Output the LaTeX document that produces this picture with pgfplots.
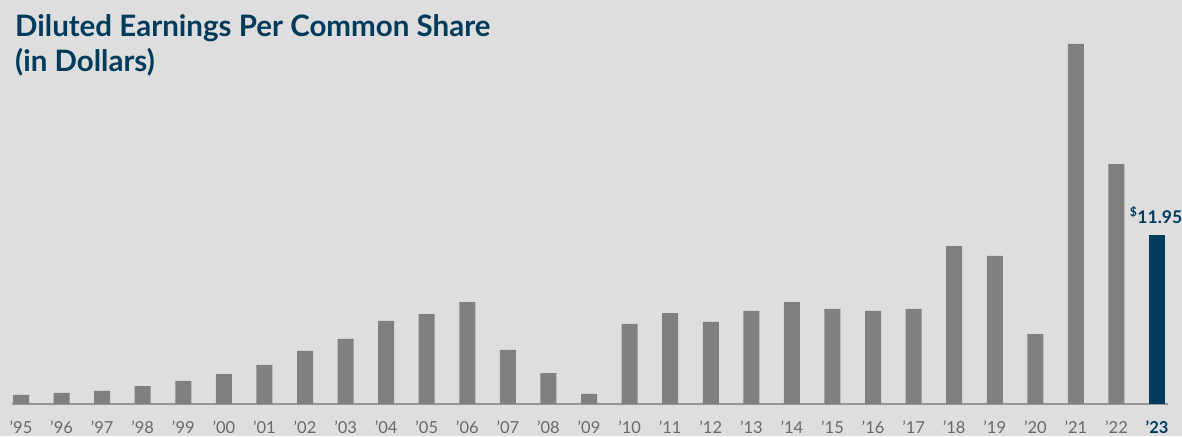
\documentclass[border=0pt]{standalone}
\usepackage{pgfplots}
\usepackage{pgfplotstable}
\pgfplotsset{compat=1.18}
\usepackage{fontspec}
\setmainfont{Lato}
\definecolor{bg}{RGB}{222,222,222}
\definecolor{bargray}{RGB}{128,128,128}
\definecolor{navy}{RGB}{0,59,92}
\definecolor{labgray}{RGB}{105,105,105}
\definecolor{axisgray}{RGB}{150,150,150}

\pgfplotstableread{
x y
0 0.64
1 0.78
2 0.92
3 1.27
4 1.63
5 2.12
6 2.76
7 3.75
8 4.60
9 5.87
10 6.36
11 7.21
12 3.82
13 2.19
14 0.71
15 5.66
16 6.43
17 5.80
18 6.58
19 7.21
20 6.72
21 6.58
22 6.72
23 11.17
24 10.47
25 4.95
26 25.46
27 16.97
}\greydata

\pgfplotstableread{
x y
28 11.95
}\lastdata

\begin{document}
\begin{tikzpicture}[x=1pt,y=1pt]
\fill[bg] (0,0) rectangle (1182,436);
\begin{axis}[
  at={(12pt,32pt)}, anchor=south west,
  scale only axis, width=1156pt, height=404pt,
  xmin=-0.222, xmax=28.27, ymin=0, ymax=28.57,
  axis x line=bottom, axis y line=none,
  axis line style={-, draw=axisgray, line width=1.2pt},
  ytick=\empty,
  xtick={0,...,28},
  major tick length=0pt,
  xticklabels={’95,’96,’97,’98,’99,’00,’01,’02,’03,’04,’05,’06,’07,’08,’09,’10,’11,’12,’13,’14,’15,’16,’17,’18,’19,’20,’21,’22,{\bfseries\color{navy}’23}},
  xticklabel style={anchor=base, yshift=-29.5pt, text=labgray, font=\fontsize{16.5}{18}\selectfont},
  ybar, bar width=16pt, bar shift=0pt,
  clip=false,
  /pgf/number format/assume math mode=true,
]
\addplot[fill=bargray, draw=none] table[x=x,y=y] {\greydata};
\addplot[fill=navy, draw=none,
  point meta=y,
  nodes near coords={\textsuperscript{\$}\pgfmathprintnumber[fixed,fixed zerofill,precision=2,assume math mode=true]{\pgfplotspointmeta}},
  every node near coord/.append style={anchor=base, yshift=12pt, text=navy, font=\bfseries\fontsize{17.5}{20}\selectfont, inner sep=0pt, xshift=-1pt}
] table[x=x,y=y] {\lastdata};
\end{axis}
\node[anchor=base west, inner sep=0pt, text=navy, font=\bfseries\fontsize{29.5}{32}\selectfont] at (15,399) {Diluted Earnings Per Common Share};
\node[anchor=base west, inner sep=0pt, text=navy, font=\bfseries\fontsize{29.5}{32}\selectfont] at (15,364) {(in Dollars)};
\pgfresetboundingbox
\useasboundingbox (0,0) rectangle (1182,436);
\end{tikzpicture}
\end{document}
